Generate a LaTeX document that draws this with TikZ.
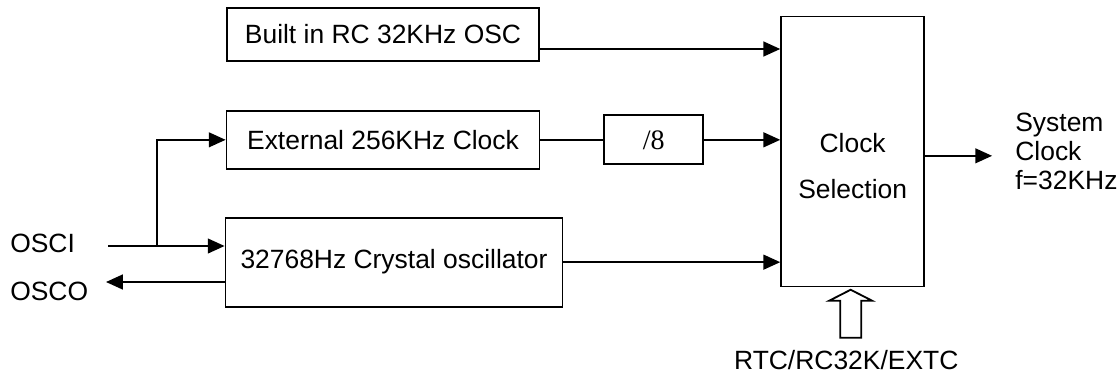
\documentclass[tikz,border=0pt]{standalone}
\usepackage{fontspec}
\setmainfont{Liberation Sans}
\newfontfamily\divfont{Liberation Serif}
\usepackage{tikz}
\usetikzlibrary{arrows.meta, positioning}
\tikzset{
  block/.style={
    draw, rectangle, inner sep=0pt,
    font=\fontsize{18.8}{22.6}\selectfont, align=center,
    line width=1.3pt
  },
  txt/.style={inner sep=0pt, font=\fontsize{18.8}{20.6}\selectfont, align=left},
  wire/.style={-{Triangle[length=0.42cm, width=0.37cm]}, line width=1.3pt},
  plain/.style={line width=1.3pt},
  hollow/.style={line width=1.3pt, line join=miter}
}

\begin{document}
\begin{tikzpicture}
  \useasboundingbox (0,0) rectangle (27.95,-9.325);

  % Sources
  \node[block, minimum width=7.8cm, minimum height=1.325cm] (rc) at (9.575,-0.8625) {Built in RC 32KHz OSC};
  \node[block, below=1.2cm of rc,
        minimum width=7.825cm, minimum height=1.45cm] (ext) {External 256KHz Clock};
  \node[block, below=1.175cm of ext, xshift=0.275cm,
        minimum width=8.425cm, minimum height=2.225cm] (xtal) {32768Hz Crystal oscillator};

  % Divider and selector
  \node[block, right=1.575cm of ext, font=\fontsize{20}{24}\divfont,
        minimum width=2.475cm, minimum height=1.225cm] (div) {/8};
  \node[block, right=1.9cm of div, yshift=-0.29cm,
        minimum width=3.575cm, minimum height=6.75cm] (sel) {};
  \node[txt, align=center] (seltxt) at ([yshift=-0.37cm]sel.center) {Clock\\[0.43cm]Selection};

  % Pins and outputs
  \node[txt, anchor=west] (osci) at (0.25,-6.075) {OSCI};
  \node[txt, anchor=west] (osco) at (0.25,-7.275) {OSCO};
  \node[txt, right=2.25cm of sel] (sysclk) {System\\Clock\\f=32KHz};
  \node[txt, below=1.57cm of sel, xshift=-0.16cm] (rtc) {RTC/RC32K/EXTC};

  \coordinate (oscin) at (2.7,-6.15);
  \coordinate (br) at (3.925,-6.15);
  \coordinate (oscout) at (2.65,-7.05);
  \coordinate (selout) at ([yshift=-0.11cm]sel.east);
  \coordinate (clkend) at ([xshift=-0.575cm]sysclk.west);

  % Wires
  \draw[wire] ([yshift=-0.3625cm]rc.east) -- ([yshift=-0.3625cm]rc.east -| sel.west);
  \draw[plain] (ext.east) -- (div.west);
  \draw[wire] (div.east) -- (div.east -| sel.west);
  \draw[wire] (xtal.east) -- (xtal.east -| sel.west);
  \draw[wire] (selout) -- (clkend |- selout);
  \draw[wire] (oscin) -- (oscin -| xtal.west);
  \draw[wire] (br) |- (ext.west);
  \draw[wire] (xtal.west |- oscout) -- (oscout);

  % Mode select input
  \draw[hollow] ([xshift=-0.05cm, yshift=-0.06cm]sel.south) -- ++(0.5375,-0.275) -- ++(-0.275,0)
    -- ++(0,-0.925) -- ++(-0.525,0) -- ++(0,0.925) -- ++(-0.275,0) -- cycle;
\end{tikzpicture}
\end{document}
